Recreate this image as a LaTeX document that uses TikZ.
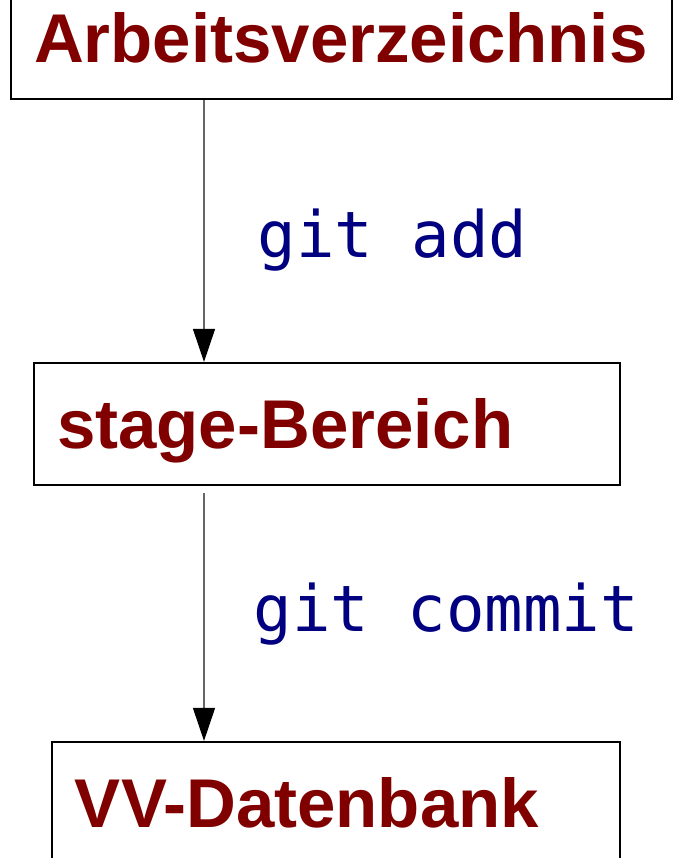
\documentclass[tikz,border=0pt]{standalone}
\usepackage{fontspec}
\setmainfont{Liberation Sans}
\newfontfamily\codefont{DejaVu Sans Mono}
\usepackage{tikz}
\usetikzlibrary{arrows.meta}
\definecolor{darkred}{HTML}{800000}
\definecolor{codeblue}{HTML}{000080}

\begin{document}
\begin{tikzpicture}[x=0.5pt,y=-0.5pt,>={Triangle[length=16.5pt,width=11pt,color=black]}]
  \tikzstyle{area}=[rectangle,draw=black,line width=1.1pt,fill=white,
                    minimum height=61pt,inner xsep=11.5pt,align=left,
                    text height=24.5pt,text depth=0pt,
                    font=\fontsize{34.5}{40}\selectfont\bfseries,text=darkred]
  \tikzstyle{flow}=[->,draw=black!60,line width=0.6pt]
  \tikzstyle{command}=[anchor=base west,inner sep=0pt,text=codeblue,
                       font=\codefont\fontsize{32}{38}\selectfont]

  \useasboundingbox (0,0) rectangle (673,858);

  \node [area,text width=307.5pt] (work) at (341.5,38) {Arbeitsverzeichnis};
  \node [area,text width=270pt] (stage) at (327,424) {stage-Bereich};
  \node [area,text width=261pt] (repo) at (336,803) {VV-Datenbank};

  \coordinate (axis) at (204,0);
  \draw [flow] (work.south -| axis) -- node[command,pos=0.6,xshift=26.5pt] {git add} (stage.north -| axis);
  \draw [flow,shorten <=3.5pt] (stage.south -| axis) -- node[command,pos=0.57,xshift=24.5pt] {git commit} (repo.north -| axis);
\end{tikzpicture}
\end{document}
